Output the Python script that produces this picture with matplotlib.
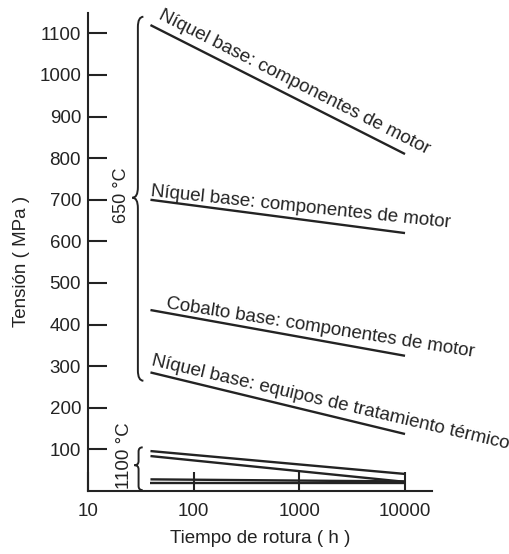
import matplotlib
matplotlib.use("Agg")
import matplotlib.pyplot as plt
from matplotlib.path import Path
from matplotlib.patches import PathPatch
import matplotlib.transforms as mtransforms

plt.rcParams['font.family'] = ['Liberation Sans', 'DejaVu Sans']

# tiempo de rotura (h), extremos de cada recta
horas = [39, 10000]

# 650 °C
ni_motor_1 = [1120, 810]
ni_motor_2 = [700, 620]
co_motor = [435, 325]
ni_equipos = [285, 137]

# 1100 °C
alta_1 = [96, 41]
alta_2 = [84, 22]
alta_3 = [28, 23]
alta_4 = [20, 20]

x_ticks = [10, 100, 1000, 10000]
y_ticks = [100, 200, 300, 400, 500, 600, 700, 800, 900, 1000, 1100]

etiquetas = [
    ("Níquel base: componentes de motor", 46, 1137, -26.8),
    ("Níquel base: componentes de motor", 39, 708, -6.0),
    ("Cobalto base: componentes de motor", 54, 440, -9.0),
    ("Níquel base: equipos de tratamiento térmico", 39, 302, -13.2),
]

col = '#232323'

fig = plt.figure(figsize=(5.09, 5.54), dpi=100)
ax = fig.add_axes([88/509, 1 - 491/554, 344/509, 478/554])

ax.set_xscale('log')
ax.set_xlim(10, 18000)
ax.set_ylim(0, 1149)

for serie in [ni_motor_1, ni_motor_2, co_motor, ni_equipos, alta_1, alta_2, alta_3, alta_4]:
    ax.plot(horas, serie, color=col, lw=1.7, solid_capstyle='butt')

for txt, x, y, rot in etiquetas:
    ax.text(x, y, txt, rotation=rot, rotation_mode='anchor', ha='left', va='baseline',
            fontsize=13.5, color=col)

ax.spines['top'].set_visible(False)
ax.spines['right'].set_visible(False)
ax.spines['left'].set_linewidth(1.5)
ax.spines['bottom'].set_linewidth(1.5)
ax.spines['left'].set_color(col)
ax.spines['bottom'].set_color(col)

ax.set_xticks(x_ticks)
ax.set_xticklabels([str(v) for v in x_ticks])
ax.xaxis.set_minor_locator(matplotlib.ticker.NullLocator())
ax.set_yticks(y_ticks)
ax.set_yticklabels([str(v) for v in y_ticks])
ax.tick_params(axis='both', direction='in', length=14, width=1.5, color=col,
               labelsize=13.5, labelcolor=col)
ax.tick_params(axis='x', pad=9)
ax.tick_params(axis='y', pad=5)

ax.set_ylabel('Tensión ( MPa )', fontsize=13.5, color=col)
ax.yaxis.set_label_coords(-0.168, 0.48)
ax.set_xlabel('Tiempo de rotura ( h )', fontsize=13.5, color=col, labelpad=7)

# llaves
trans = mtransforms.blended_transform_factory(ax.transAxes, ax.transData)


def llave(x, y0, y1, ym, w, r):
    verts = [
        (x + w, y1), (x, y1), (x, y1 - r),
        (x, ym + r), (x, ym), (x - w, ym),
        (x, ym), (x, ym - r),
        (x, y0 + r), (x, y0), (x + w, y0),
    ]
    codes = [Path.MOVETO, Path.CURVE3, Path.CURVE3,
             Path.LINETO, Path.CURVE3, Path.CURVE3,
             Path.CURVE3, Path.CURVE3,
             Path.LINETO, Path.CURVE3, Path.CURVE3]
    ax.add_patch(PathPatch(Path(verts, codes), transform=trans, fill=False,
                           lw=1.4, edgecolor=col, clip_on=False))


llave(0.145, 265, 1140, 705, 0.016, 25)
llave(0.147, 2, 105, 62, 0.012, 10)

ax.text(0.098, 712, '650 °C', transform=trans, rotation=90, ha='center', va='center',
        fontsize=13, color=col)
ax.text(0.106, 86, '1100 °C', transform=trans, rotation=90, ha='center', va='center',
        fontsize=13.5, color=col)

fig.savefig('out.png', dpi=100)
